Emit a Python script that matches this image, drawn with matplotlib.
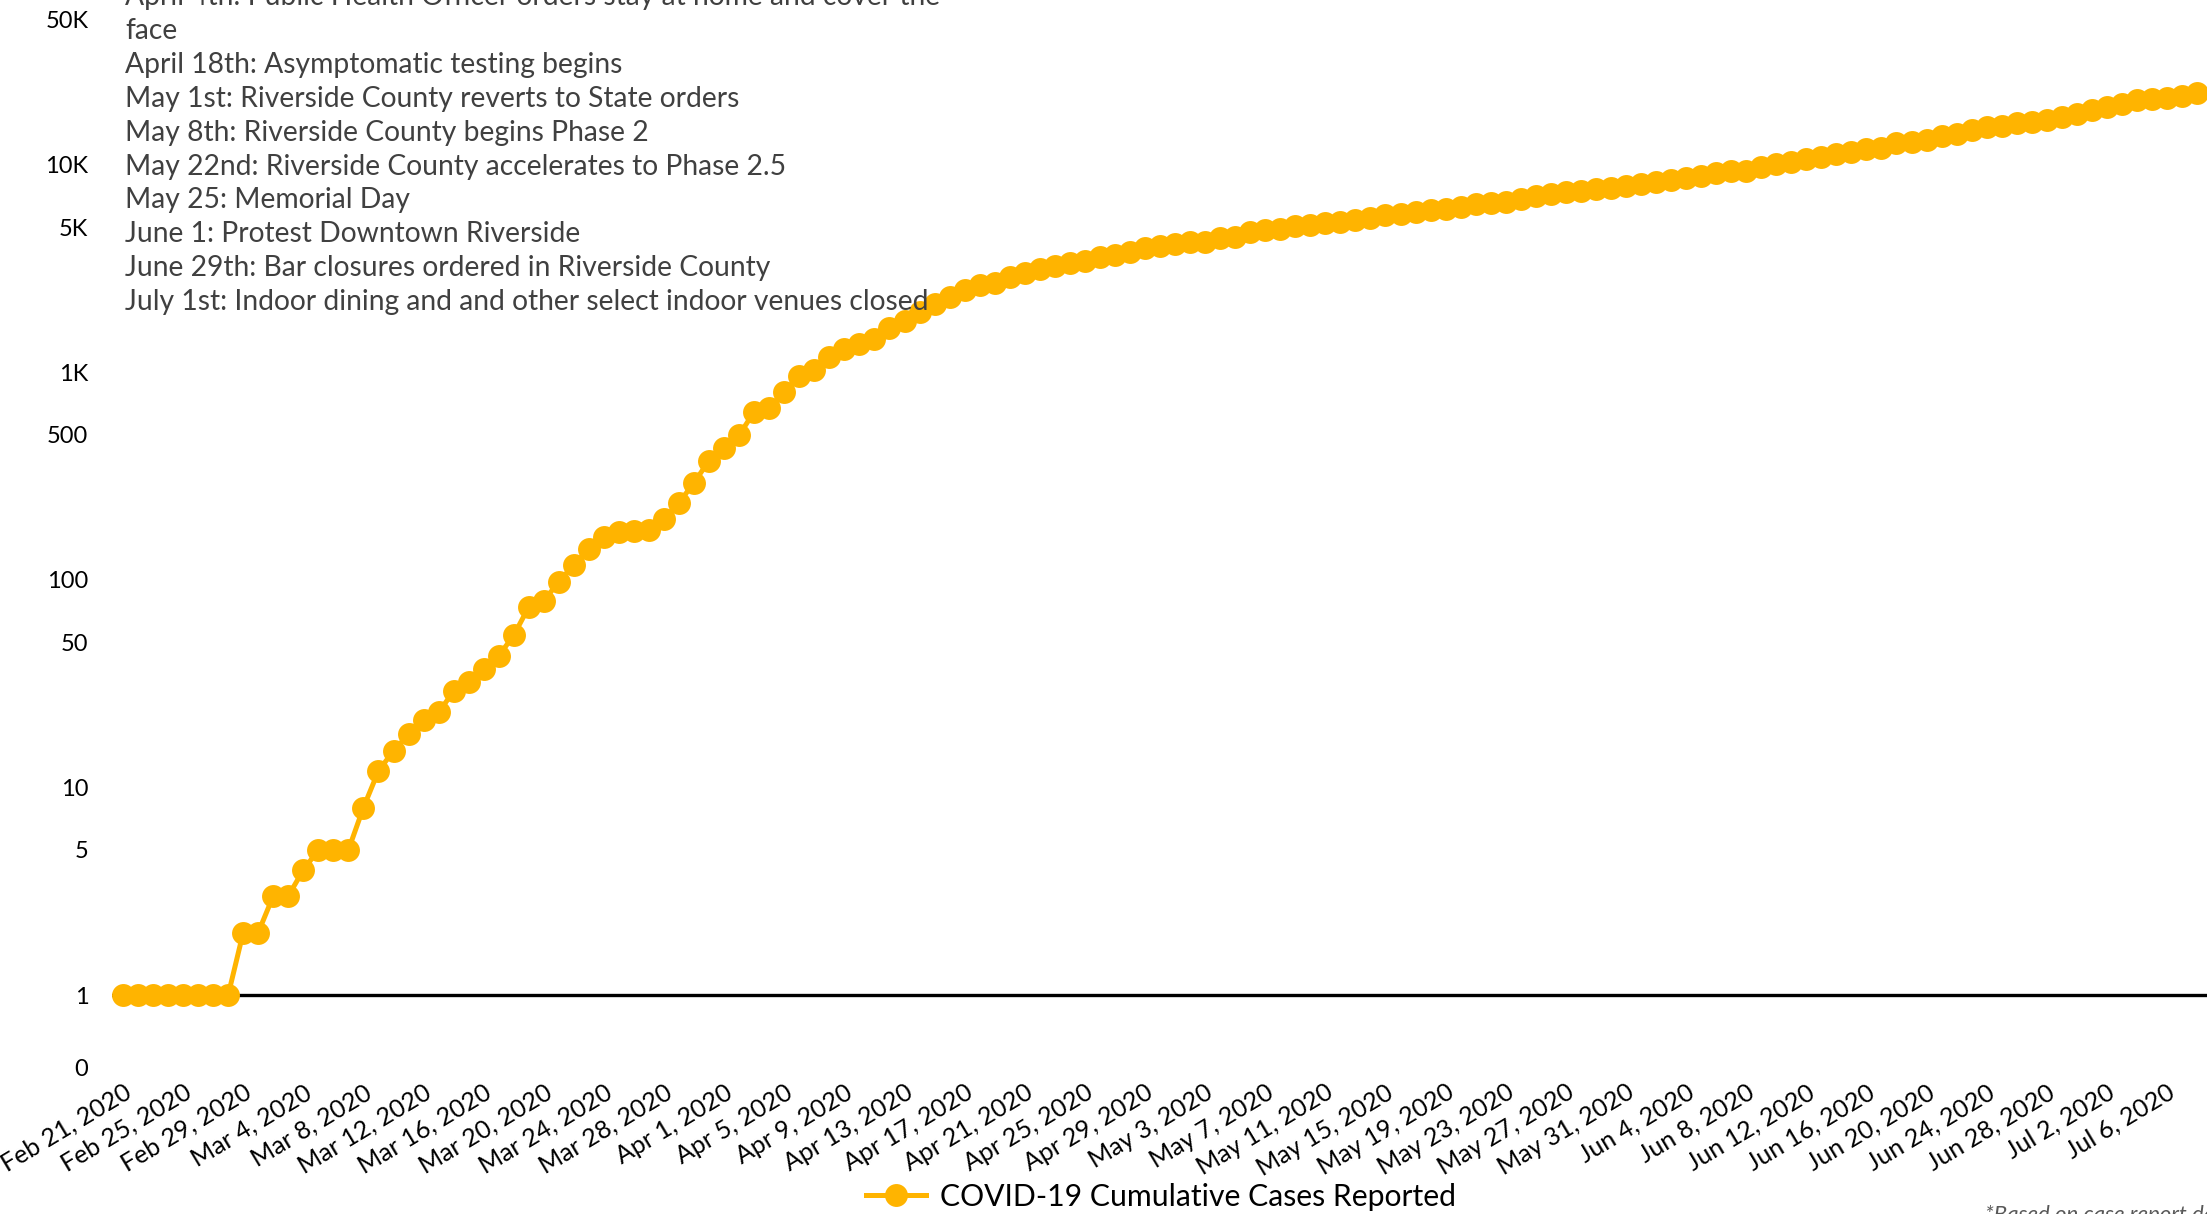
import numpy as np
import pandas as pd
import matplotlib
matplotlib.use("Agg")
import matplotlib.pyplot as plt

plt.rcParams['font.family'] = ['Lato', 'DejaVu Sans']

# ---------------- data ----------------
start_date = "2020-02-21"
cumulative_cases = [
    1, 1, 1, 1, 1, 1, 1, 1, 2, 2,
    3, 3, 4, 5, 5, 5, 8, 12, 15, 18,
    21, 23, 29, 32, 37, 43, 54, 74, 79, 98,
    118, 141, 160, 169, 171, 174, 197, 235, 294, 375,
    433, 498, 645, 672, 806, 959, 1025, 1189, 1294, 1362,
    1439, 1637, 1770, 1955, 2123, 2296, 2490, 2631, 2681, 2884,
    2994, 3131, 3260, 3372, 3447, 3600, 3669, 3779, 3980, 4068,
    4128, 4223, 4250, 4416, 4497, 4723, 4812, 4879, 5059, 5117,
    5250, 5306, 5409, 5509, 5714, 5781, 5931, 6042, 6107, 6266,
    6436, 6530, 6624, 6800, 7085, 7215, 7350, 7460, 7600, 7690,
    7890, 8070, 8280, 8430, 8650, 8850, 9150, 9310, 9350, 9710,
    10030, 10320, 10600, 10830, 11200, 11460, 11840, 12050, 12670, 12890,
    13140, 13740, 14100, 14680, 15100, 15370, 15810, 16100, 16400, 16900,
    17530, 18330, 18890, 19590, 20480, 20700, 20860, 21400, 22200,
]
dates = pd.date_range(start_date, periods=len(cumulative_cases), freq="D")

y_ticks = [0, 1, 5, 10, 50, 100, 500, 1000, 5000, 10000, 50000]
y_tick_labels = ["0", "1", "5", "10", "50", "100", "500", "1K", "5K", "10K", "50K"]

x_ticks = pd.date_range("2020-02-21", "2020-07-06", freq="4D")
x_tick_labels = [f"{d.strftime('%b')} {d.day}, {d.year}" for d in x_ticks]

series_label = "COVID-19 Cumulative Cases Reported"
event_lines = [
    "April 4th: Public Health Officer orders stay at home and cover the",
    "face",
    "April 18th: Asymptomatic testing begins",
    "May 1st: Riverside County reverts to State orders",
    "May 8th: Riverside County begins Phase 2",
    "May 22nd: Riverside County accelerates to Phase 2.5",
    "May 25: Memorial Day",
    "June 1: Protest Downtown Riverside",
    "June 29th: Bar closures ordered in Riverside County",
    "July 1st: Indoor dining and and other select indoor venues closed",
]
footnote = "*Based on case report date"

# ---------------- scale ----------------
K = 0.3516  # fraction of a decade between 0 and 1


def fwd(y):
    y = np.asarray(y, dtype=float)
    with np.errstate(divide="ignore", invalid="ignore"):
        return np.where(y >= 1, np.log10(np.maximum(y, 1)), (y - 1) * K)


def inv(f):
    f = np.asarray(f, dtype=float)
    with np.errstate(over="ignore", invalid="ignore"):
        return np.where(f >= 0, 10 ** np.minimum(f, 300), f / K + 1)


W, H = 2207, 1214
fig = plt.figure(figsize=(W / 100, H / 100), dpi=100)
ax_left, ax_bottom = 112, 1068
ax = fig.add_axes([ax_left / W, (H - ax_bottom) / H, 1 - ax_left / W, ax_bottom / H])

ax.set_yscale("function", functions=(fwd, inv))
ax.axhline(1, color="black", lw=2.4, zorder=1)
ax.plot(dates, cumulative_cases, color="#FFB400", lw=3.6, marker="o",
        markersize=16.5, markeredgewidth=0, zorder=3, label=series_label)

ax.set_ylim(0, 62000)
day = pd.Timedelta(days=1)
ax.set_xlim(dates[0] - 0.73 * day, dates[0] + 138.66 * day)

ax.set_yticks(y_ticks, y_tick_labels)
ax.set_xticks(x_ticks, x_tick_labels)
ax.minorticks_off()
ax.tick_params(axis="y", length=0, pad=17, labelsize=17, labelcolor="black")
ax.tick_params(axis="x", length=0, pad=9, labelsize=18, labelcolor="black")
for lbl in ax.get_xticklabels():
    lbl.set_rotation(31)
    lbl.set_ha("right")
    lbl.set_va("top")
    lbl.set_rotation_mode("anchor")
for s in ax.spines.values():
    s.set_visible(False)
ax.patch.set_alpha(0)

# event annotations
base0 = 5
step = 33.9
for k, line in enumerate(event_lines):
    fig.text(125 / W, 1 - (base0 + k * step) / H, line, fontsize=20.3,
             color="#404040", va="baseline", ha="left")

fig.legend(loc="center", bbox_to_anchor=(1161 / W, 1 - 1197 / H), frameon=False,
           fontsize=21.7, handlelength=2.0, handletextpad=0.45, borderaxespad=0)

fig.text(1985 / W, 1 - 1205 / H, footnote, fontsize=16, style="italic",
         color="#595959", va="top", ha="left")

fig.savefig("out.png", dpi=100)
